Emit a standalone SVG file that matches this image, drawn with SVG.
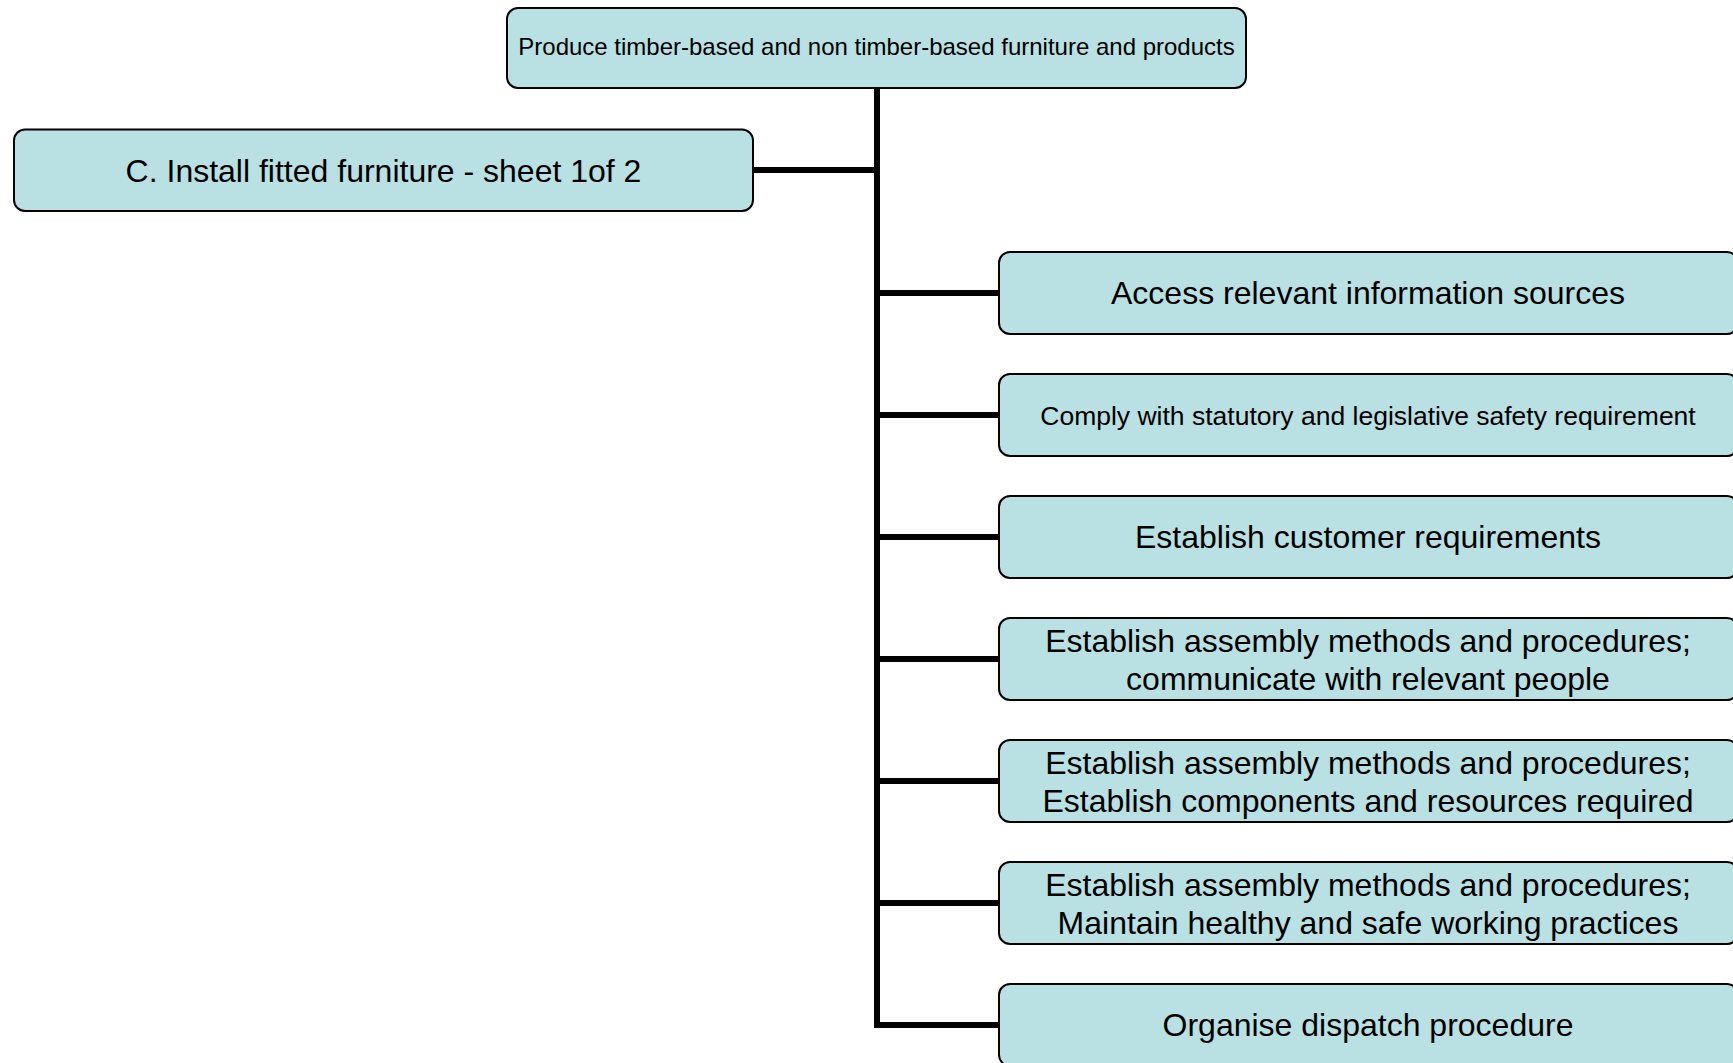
<svg xmlns="http://www.w3.org/2000/svg" width="1733" height="1063" viewBox="0 0 1733 1063">
<style>
.box{fill:#B9E0E3;stroke:#000;stroke-width:2}
.t{font-family:"Liberation Sans",Arial,sans-serif;fill:#000;text-anchor:middle}
.big{font-size:32px}
.small{font-size:24px}
.mid{font-size:26.5px}
.conn{fill:none;stroke:#000;stroke-width:6}
</style>
<rect width="1733" height="1063" fill="#fff"/>
<g id="connectors">
<path class="conn" d="M877,88 V1025 H999"/>
<path class="conn" d="M753,170 H877"/>
<path class="conn" d="M877,293 H999"/>
<path class="conn" d="M877,415 H999"/>
<path class="conn" d="M877,537 H999"/>
<path class="conn" d="M877,659 H999"/>
<path class="conn" d="M877,781 H999"/>
<path class="conn" d="M877,903 H999"/>
</g>
<g id="root">
<rect class="box" x="507" y="8" width="739" height="80" rx="11"/>
<text class="t small" x="876.5" y="55">Produce timber-based and non timber-based furniture and products</text>
</g>
<g id="install">
<rect class="box" x="14" y="129.5" width="739" height="81.5" rx="11"/>
<text class="t big" x="383.5" y="181.5">C. Install fitted furniture - sheet 1of 2</text>
</g>
<g id="n1">
<rect class="box" x="999" y="252" width="739" height="82" rx="11"/>
<text class="t big" x="1368" y="304">Access relevant information sources</text>
</g>
<g id="n2">
<rect class="box" x="999" y="374" width="739" height="82" rx="11"/>
<text class="t mid" x="1368" y="424.5">Comply with statutory and legislative safety requirement</text>
</g>
<g id="n3">
<rect class="box" x="999" y="496" width="739" height="82" rx="11"/>
<text class="t big" x="1368" y="548">Establish customer requirements</text>
</g>
<g id="n4">
<rect class="box" x="999" y="618" width="739" height="82" rx="11"/>
<text class="t big" x="1368" y="652">Establish assembly methods and procedures;</text>
<text class="t big" x="1368" y="690">communicate with relevant people</text>
</g>
<g id="n5">
<rect class="box" x="999" y="740" width="739" height="82" rx="11"/>
<text class="t big" x="1368" y="774">Establish assembly methods and procedures;</text>
<text class="t big" x="1368" y="812">Establish components and resources required</text>
</g>
<g id="n6">
<rect class="box" x="999" y="862" width="739" height="82" rx="11"/>
<text class="t big" x="1368" y="896">Establish assembly methods and procedures;</text>
<text class="t big" x="1368" y="934">Maintain healthy and safe working practices</text>
</g>
<g id="n7">
<rect class="box" x="999" y="984" width="739" height="82" rx="11"/>
<text class="t big" x="1368" y="1036">Organise dispatch procedure</text>
</g>
</svg>
